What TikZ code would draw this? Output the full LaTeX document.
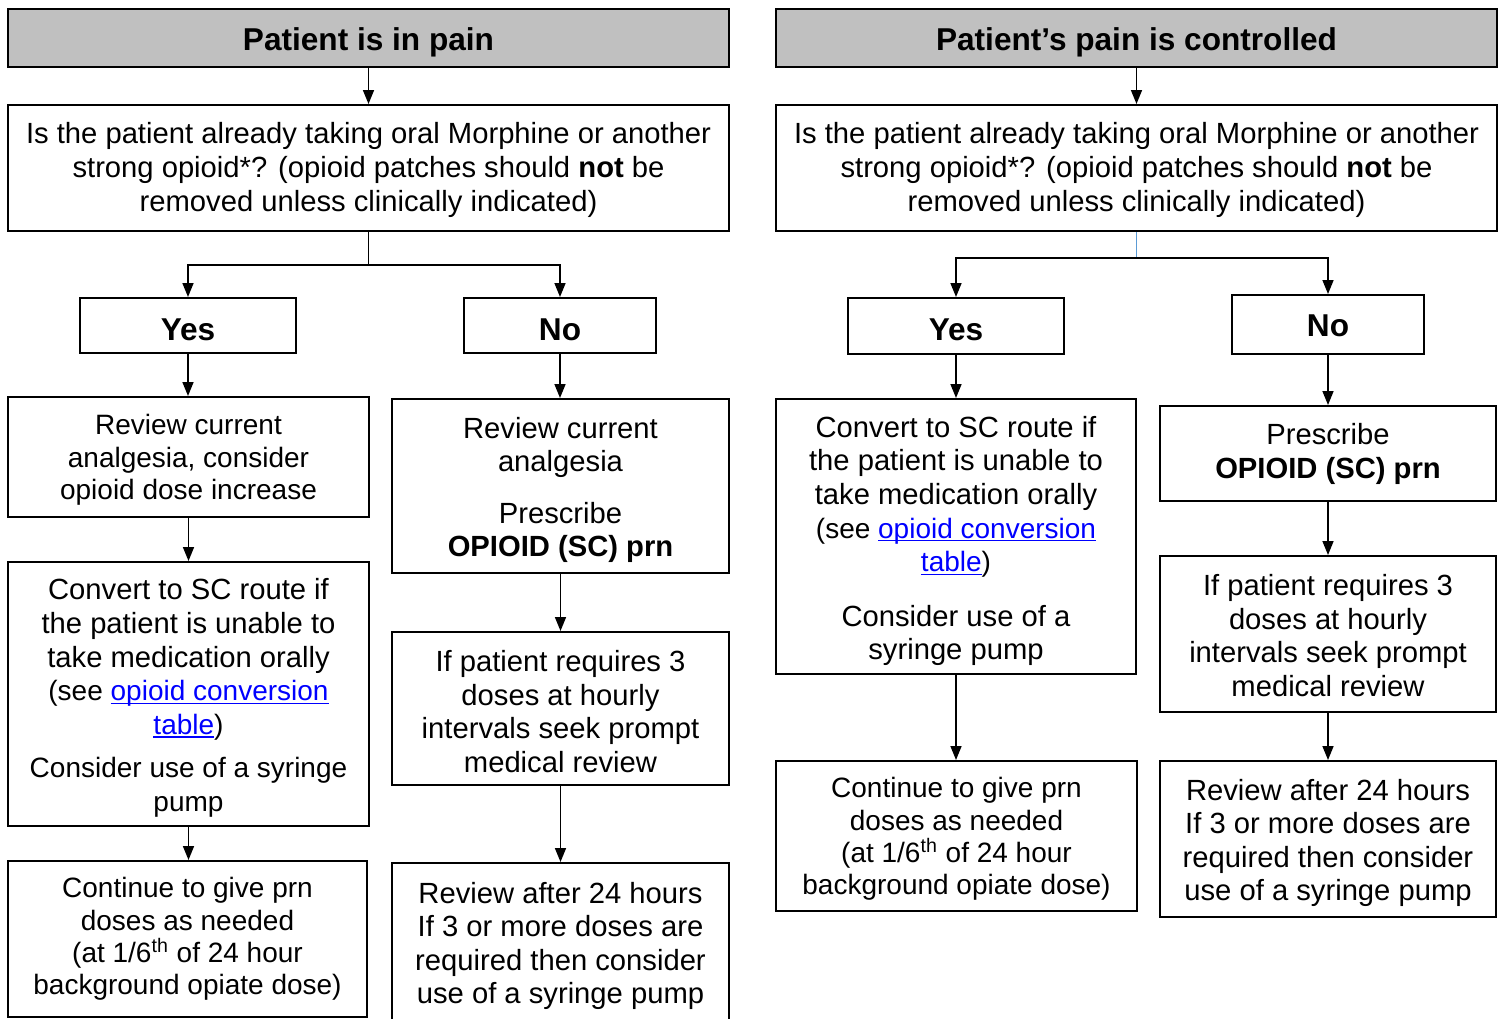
\documentclass[tikz,border=0pt]{standalone}
\usepackage{fontspec}
\setmainfont{Liberation Sans}
\usetikzlibrary{arrows.meta}
\definecolor{hdr}{HTML}{C0C0C0}
\definecolor{lk}{HTML}{0000FF}
\definecolor{bluel}{HTML}{5B9BD5}
\newcommand\lnk[1]{\textcolor{lk}{\setbox0\hbox{#1}\rlap{\rule[-1.7pt]{\wd0}{0.7pt}}\box0}}
\newcommand\sm{\fontsize{14}{16}\selectfont}
% \bx{name}{x1}{y1}{x2}{y2}{box style}{text style}{dy}{text}
\newcommand\bx[9]{%
  \node[#6, minimum width={(#4-#2)*0.5pt}, minimum height={(#5-#3)*0.5pt}] (#1) at ({(#2+#4)/2},{(#3+#5)/2}) {};
  \node[#7] (#1-t) at ({(#2+#4)/2},{(#3+#5)/2+#8}) {#9};}
\begin{document}
\begin{tikzpicture}[x=0.5pt,y=-0.5pt,
  box/.style={draw, line width=1pt, inner sep=0pt},
  head/.style={box, fill=hdr},
  txt/.style={align=center, inner sep=0pt, font=\fontsize{14.6}{16.8}\selectfont},
  stxt/.style={align=center, inner sep=0pt, font=\fontsize{14}{16.2}\selectfont},
  btxt/.style={align=center, inner sep=0pt, font=\bfseries\fontsize{15.8}{18}\selectfont},
  conn/.style={line width=0.8pt},
  arr/.style={conn, -{Triangle[length=7pt,width=5.5pt]}},
  bconn/.style={line width=0.7pt, draw=bluel}]
\clip (0,0) rectangle (1503,1018);
% ---------- left column ----------
\bx{hL}{8}{9}{729}{67}{head}{btxt}{4}{Patient is in pain}
\bx{qL}{8}{105}{729}{231}{box}{txt}{2}{Is the patient already taking oral Morphine or another\\strong opioid*? (opioid patches should \textbf{not} be\\removed unless clinically indicated)}
\bx{yesL}{80}{298}{296}{353}{box}{btxt}{4}{Yes}
\bx{noL}{464}{298}{656}{353}{box}{btxt}{4}{No}
\bx{revL}{8}{397}{369}{517}{box}{stxt}{3}{Review current\\analgesia, consider\\opioid dose increase}
\bx{convL}{8}{562}{369}{826}{box}{txt}{4}{Convert to SC route if\\the patient is unable to\\take medication orally\\{\sm(see \lnk{opioid conversion}}\\{\sm\lnk{table})}\\[5pt]{\sm Consider use of a syringe}\\{\sm pump}}
\bx{contL}{8}{861}{367}{1017}{box}{stxt}{0}{Continue to give prn\\doses as needed\\(at 1/6\textsuperscript{th} of 24 hour\\background opiate dose)}
\bx{presL}{392}{399}{729}{573}{box}{txt}{4}{Review current\\analgesia\\[9pt]Prescribe\\\textbf{OPIOID (SC) prn}}
\bx{ifL}{392}{632}{729}{785}{box}{txt}{3}{If patient requires 3\\doses at hourly\\intervals seek prompt\\medical review}
\bx{rvL}{392}{863}{729}{1023}{box}{txt}{3}{Review after 24 hours\\If 3 or more doses are\\required then consider\\use of a syringe pump}
% ---------- right column ----------
\bx{hR}{776}{9}{1497}{67}{head}{btxt}{4}{Patient’s pain is controlled}
\bx{qR}{776}{105}{1497}{231}{box}{txt}{2}{Is the patient already taking oral Morphine or another\\strong opioid*? (opioid patches should \textbf{not} be\\removed unless clinically indicated)}
\bx{yesR}{848}{298}{1064}{354}{box}{btxt}{4}{Yes}
\bx{noR}{1232}{295}{1424}{354}{box}{btxt}{1}{No}
\bx{convR}{776}{399}{1136}{674}{box}{txt}{4.5}{Convert to SC route if\\the patient is unable to\\take medication orally\\{\sm(see \lnk{opioid conversion}}\\{\sm\lnk{table})}\\[10.5pt]Consider use of a\\syringe pump}
\bx{contR}{776}{761}{1137}{911}{box}{stxt}{3}{Continue to give prn\\doses as needed\\(at 1/6\textsuperscript{th} of 24 hour\\background opiate dose)}
\bx{presR}{1160}{406}{1496}{501}{box}{txt}{0.5}{Prescribe\\\textbf{OPIOID (SC) prn}}
\bx{ifR}{1160}{556}{1496}{712}{box}{txt}{1.5}{If patient requires 3\\doses at hourly\\intervals seek prompt\\medical review}
\bx{rvR}{1160}{761}{1496}{917}{box}{txt}{4}{Review after 24 hours\\If 3 or more doses are\\required then consider\\use of a syringe pump}
% ---------- connectors left ----------
\coordinate (bL) at (368.5,265);
\draw[arr] (hL.south) -- (qL.north);
\draw[conn] (qL.south) -- (bL);
\draw[arr] (bL) -| (yesL.north);
\draw[arr] (bL) -| (noL.north);
\draw[arr] (yesL.south) -- (yesL.south |- revL.north);
\draw[arr] (revL.south) -- (convL.north);
\draw[arr] (convL.south) -- (convL.south |- contL.north);
\draw[arr] (noL.south) -- (noL.south |- presL.north);
\draw[arr] (presL.south) -- (ifL.north);
\draw[arr] (ifL.south) -- (rvL.north);
% ---------- connectors right ----------
\coordinate (bR) at (1136.5,258);
\draw[arr] (hR.south) -- (qR.north);
\draw[bconn] (qR.south) -- (bR);
\draw[arr] (bR) -| (yesR.north);
\draw[arr] (bR) -| (noR.north);
\draw[arr] (yesR.south) -- (yesR.south |- convR.north);
\draw[arr] (convR.south) -- (convR.south |- contR.north);
\draw[arr] (noR.south) -- (noR.south |- presR.north);
\draw[arr] (presR.south) -- (ifR.north);
\draw[arr] (ifR.south) -- (rvR.north);
\end{tikzpicture}
\end{document}
